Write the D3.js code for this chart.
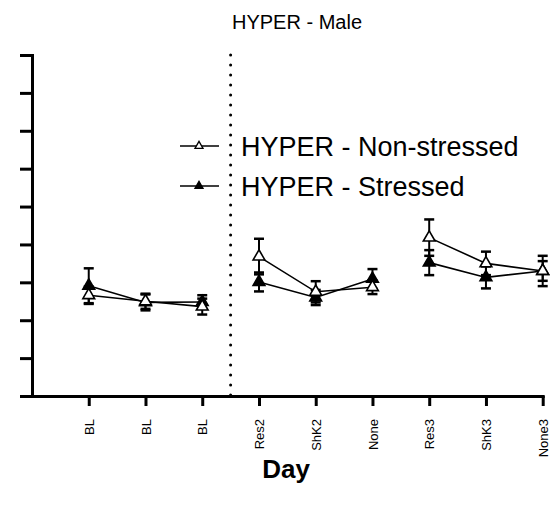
<!DOCTYPE html>
<html>
<head>
<meta charset="utf-8">
<script src="https://cdn.jsdelivr.net/npm/d3@7"></script>
<style>
  body { margin: 0; background: #fff; }
  svg { display: block; font-family: "Liberation Sans", Arial, sans-serif; }
</style>
</head>
<body>
<script>
// Data (y in axis tick units, 10 ticks 0..9)
const tickLabels = ["BL", "BL", "BL", "Res2", "ShK2", "None", "Res3", "ShK3", "None3"];
const positions = [1, 2, 3, 4, 5, 6, 7, 8, 9];
const segments = [0, 0, 0, 1, 1, 1, 2, 2, 2];
const nonStressed = [2.66, 2.50, 2.36, 3.68, 2.75, 2.87, 4.18, 3.50, 3.30];
const nonStressedErr = [0.23, 0.20, 0.21, 0.47, 0.28, 0.18, 0.48, 0.31, 0.40];
const stressed = [2.91, 2.47, 2.48, 3.01, 2.60, 3.09, 3.52, 3.13, 3.30];
const stressedErr = [0.46, 0.21, 0.18, 0.25, 0.20, 0.26, 0.33, 0.29, 0.26];
const yTicks = [0, 1, 2, 3, 4, 5, 6, 7, 8, 9];
const splitAt = 3.5;

const width = 560;
const height = 516;
const plot = { left: 32, right: 542.7, top: 55, bottom: 396 };

const svg = d3.select("body")
  .append("svg")
  .attr("width", width)
  .attr("height", height);

// Escalas
const x = d3.scaleLinear().domain([0, 9]).range([plot.left, plot.right]);
const y = d3.scaleLinear().domain([0, 9]).range([plot.bottom, plot.top]);

// Titulo
svg.append("text")
  .attr("x", 297)
  .attr("y", 29)
  .attr("text-anchor", "middle")
  .style("font-size", "20px")
  .text("HYPER - Male");

// Linha pontilhada que separa o baseline
svg.append("line")
  .attr("x1", x(splitAt)).attr("x2", x(splitAt))
  .attr("y1", y(9)).attr("y2", y(0))
  .attr("stroke", "#000")
  .attr("stroke-width", 3)
  .attr("stroke-linecap", "round")
  .attr("stroke-dasharray", "0 10");

// Eixo Y (sem rótulos)
const yAxis = svg.append("g")
  .attr("transform", `translate(${plot.left},0)`)
  .call(d3.axisLeft(y).tickValues(yTicks).tickSize(12).tickSizeOuter(0).tickFormat(""));

// Eixo X
const xAxis = svg.append("g")
  .attr("transform", `translate(0,${plot.bottom})`)
  .call(d3.axisBottom(x).tickValues(positions).tickSize(10).tickSizeOuter(0)
    .tickFormat((d, i) => tickLabels[i]));

[yAxis, xAxis].forEach(g => {
  g.select(".domain").attr("stroke-width", 3).attr("stroke-linecap", "square");
  g.selectAll(".tick line").attr("stroke-width", 3);
});

xAxis.selectAll(".tick text")
  .attr("transform", "rotate(-90)")
  .attr("x", -23)
  .attr("y", 0)
  .attr("dy", "0.36em")
  .style("text-anchor", "end")
  .style("font-size", "13px")
  .style("font-family", "Liberation Sans, Arial, sans-serif")
  .attr("fill", "#000");

// Título do eixo X
svg.append("text")
  .attr("x", 286)
  .attr("y", 478)
  .attr("text-anchor", "middle")
  .style("font-size", "26px")
  .style("font-weight", "bold")
  .text("Day");

const triangle = d3.symbol().type(d3.symbolTriangle).size(60);
const line = d3.line().x(d => x(positions[d.i])).y(d => y(d.v));

// Desenha uma série: barras de erro, linhas por bloco e triângulos
const drawSeries = (values, errs, filled) => {
  const g = svg.append("g");
  const cap = 5;

  values.forEach((v, i) => {
    const cx = x(positions[i]);
    const lo = y(v - errs[i]);
    const hi = y(v + errs[i]);
    g.append("line")
      .attr("x1", cx).attr("x2", cx).attr("y1", lo).attr("y2", hi)
      .attr("stroke", "#000").attr("stroke-width", 2);
    [lo, hi].forEach(yy => {
      g.append("line")
        .attr("x1", cx - cap).attr("x2", cx + cap).attr("y1", yy).attr("y2", yy)
        .attr("stroke", "#000").attr("stroke-width", 2.5);
    });
  });

  const pts = values.map((v, i) => ({ v, i, seg: segments[i] }));
  const bySeg = d3.groups(pts, d => d.seg);

  g.selectAll("path.seg")
    .data(bySeg)
    .enter()
    .append("path")
    .attr("class", "seg")
    .attr("d", d => line(d[1]))
    .attr("fill", "none")
    .attr("stroke", "#000")
    .attr("stroke-width", 1.6);

  g.selectAll("path.pt")
    .data(pts)
    .enter()
    .append("path")
    .attr("class", "pt")
    .attr("d", triangle)
    .attr("transform", d => `translate(${x(positions[d.i])},${y(d.v)})`)
    .attr("fill", filled ? "#000" : "#fff")
    .attr("stroke", "#000")
    .attr("stroke-width", 1.6);
};

drawSeries(stressed, stressedErr, true);
drawSeries(nonStressed, nonStressedErr, false);

// Legenda
const legend = [
  { label: "HYPER - Non-stressed", filled: false, y: 146 },
  { label: "HYPER - Stressed", filled: true, y: 186 }
];
const smallTriangle = d3.symbol().type(d3.symbolTriangle).size(28);

legend.forEach(item => {
  svg.append("line")
    .attr("x1", 180).attr("x2", 219)
    .attr("y1", item.y).attr("y2", item.y)
    .attr("stroke", "#000").attr("stroke-width", 1.6);
  svg.append("path")
    .attr("d", smallTriangle)
    .attr("transform", `translate(199,${item.y})`)
    .attr("fill", item.filled ? "#000" : "#fff")
    .attr("stroke", "#000").attr("stroke-width", 1.3);
  svg.append("text")
    .attr("x", 241)
    .attr("y", item.y + 9.5)
    .style("font-size", "27px")
    .text(item.label);
});
</script>
</body>
</html>
